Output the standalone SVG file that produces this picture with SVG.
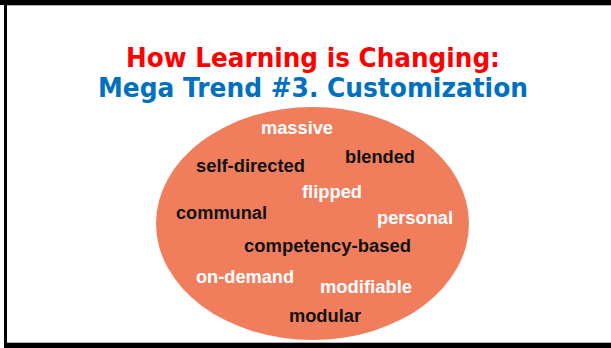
<svg xmlns="http://www.w3.org/2000/svg" width="611" height="348" viewBox="0 0 611 348">
<style>
.t1{font-family:"DejaVu Sans","Liberation Sans",sans-serif;font-weight:bold;font-size:27px;text-anchor:middle}
.w{font-family:"Liberation Sans",Arial,sans-serif;font-weight:bold;font-size:18px}
.bk{fill:#111111}
.wh{fill:#ffffff}
</style>
<rect x="0" y="0" width="611" height="348" fill="#ffffff"/>
<g id="frame">
<rect x="0" y="0" width="611" height="5" fill="#000"/>
<rect x="7" y="5" width="604" height="1" fill="#b0b0b0"/>
<rect x="4" y="0" width="3" height="348" fill="#000"/>
<rect x="7" y="342" width="604" height="1" fill="#b0b0b0"/>
<rect x="4" y="343" width="607" height="5" fill="#000"/>
</g>
<g id="title">
<text class="t1" x="313" y="67" fill="#ff0000" textLength="374" lengthAdjust="spacingAndGlyphs">How Learning is Changing:</text>
<text class="t1" x="313" y="97" fill="#0070c0" textLength="430" lengthAdjust="spacingAndGlyphs">Mega Trend #3. Customization</text>
</g>
<g id="ellipse"><ellipse cx="312.5" cy="223.5" rx="156.5" ry="116.5" fill="#f07e5d"/></g>
<g id="connectors"/>
<g id="massive"><text class="w wh" x="261" y="134" textLength="72" lengthAdjust="spacingAndGlyphs">massive</text></g>
<g id="self-directed"><text class="w bk" x="196" y="172" textLength="109" lengthAdjust="spacingAndGlyphs">self-directed</text></g>
<g id="blended"><text class="w bk" x="345" y="163" textLength="70" lengthAdjust="spacingAndGlyphs">blended</text></g>
<g id="flipped"><text class="w wh" x="302" y="198" textLength="60" lengthAdjust="spacingAndGlyphs">flipped</text></g>
<g id="communal"><text class="w bk" x="176" y="219" textLength="91" lengthAdjust="spacingAndGlyphs">communal</text></g>
<g id="personal"><text class="w wh" x="377" y="224" textLength="76" lengthAdjust="spacingAndGlyphs">personal</text></g>
<g id="competency-based"><text class="w bk" x="244" y="252" textLength="167" lengthAdjust="spacingAndGlyphs">competency-based</text></g>
<g id="on-demand"><text class="w wh" x="196" y="283" textLength="98" lengthAdjust="spacingAndGlyphs">on-demand</text></g>
<g id="modifiable"><text class="w wh" x="320" y="293" textLength="92" lengthAdjust="spacingAndGlyphs">modifiable</text></g>
<g id="modular"><text class="w bk" x="289" y="322" textLength="72" lengthAdjust="spacingAndGlyphs">modular</text></g>
</svg>
